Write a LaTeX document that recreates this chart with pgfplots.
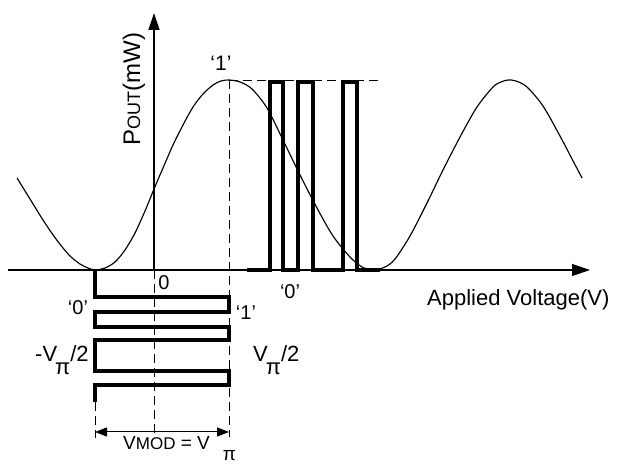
\documentclass[border=0pt]{standalone}
\usepackage{pgfplots}
\pgfplotsset{compat=1.18}
\usepackage{fontspec}
\setmainfont{Liberation Sans}
\usetikzlibrary{arrows.meta}

% font size in big points
\newcommand\fs[1]{\fontsize{#1bp}{#1bp}\selectfont}

\begin{document}
\begin{tikzpicture}
\begin{axis}[
  scale only axis, width=619bp, height=468bp,
  xmin=-154, xmax=465, ymin=-198, ymax=270,
  hide axis, clip=false]

% frame corners used for the page size
\path (rel axis cs:0,0) coordinate (bl) (rel axis cs:1,1) coordinate (tr);

% MZM power transfer curve P_out(V)
\addplot[black, line width=1.15bp, smooth] coordinates {
  (-137,92) (-124,71) (-111,50) (-98,31) (-85,15) (-74,6) (-66,2) (-59,0)
  (-49,2) (-39,8) (-29,20) (-19,37) (-9,59) (0,81) (9,102) (19,125)
  (29,145) (39,163) (49,176) (59,185) (67,189) (75,190) (86,188) (98,181)
  (113,162) (129,130) (146,95) (163,62) (179,34) (196,13) (208,3) (219,0)
  (231,3) (241,11) (256,34) (273,67) (289,100) (306,133) (323,163) (339,183)
  (347,188) (354,190) (362,189) (373,183) (389,164) (406,134) (417,113) (428,92)
};

% axes
\addplot[black, line width=1.3bp, -{Triangle[length=18bp,width=12bp]}]
  coordinates {(-146,0) (436,0)};
\addplot[black, line width=1.3bp, -{Triangle[length=17bp,width=11bp]}]
  coordinates {(0,0) (0,257)};

% dashed guide lines
\pgfplotsset{guide/.style={black, line width=1bp, dash pattern=on 9bp off 5bp}}
\addplot[guide] coordinates {(0,0) (0,-163)};
\addplot[guide] coordinates {(75,190) (75,-167)};
\addplot[guide] coordinates {(-59,-132) (-59,-168)};
\addplot[guide] coordinates {(75,189) (228,189)};

% modulation swing
\addplot[black, line width=1bp,
  {Triangle[length=12bp,width=9bp]}-{Triangle[length=12bp,width=9bp]}]
  coordinates {(-59,-162) (75,-162)};

% electrical drive signal (time runs downward)
\addplot[black, line width=3.6bp, line join=miter] coordinates {
  (-59,0) (-59,-27) (75,-27) (75,-42) (-59,-42) (-59,-57) (75,-57) (75,-70)
  (-59,-70) (-59,-101) (75,-101) (75,-115) (-59,-115) (-59,-132)};

% optical output signal
\addplot[black, line width=3.6bp, line join=miter] coordinates {
  (93,0) (116,0) (116,188) (129,188) (129,0) (144,0) (144,188) (159,188)
  (159,0) (189,0) (189,188) (203,188) (203,0) (226,0)};

% labels
\node[font=\fs{21}] at (axis cs:67,207) {‘1’};
\node[font=\fs{24}, rotate=90] at (axis cs:-20,181) {P{\fs{18}OUT}(mW)};
\node[font=\fs{20}] at (axis cs:10,-13) {0};
\node[font=\fs{20}] at (axis cs:-76,-38) {‘0’};
\node[font=\fs{20}] at (axis cs:92,-43) {‘1’};
\node[font=\fs{20}] at (axis cs:136,-22) {‘0’};
\node[font=\fs{22}, anchor=base west, inner sep=0pt] at (axis cs:-119,-92)
  {-V\kern-2bp\raisebox{-13bp}{π}/2};
\node[font=\fs{22}, anchor=base west, inner sep=0pt] at (axis cs:99,-92)
  {V\kern-2bp\raisebox{-13bp}{π}/2};
\node[font=\fs{22}, anchor=base west, inner sep=0pt] at (axis cs:273,-36)
  {Applied Voltage(V)};
\node[font=\fs{19}, anchor=base west, inner sep=0pt] at (axis cs:-31,-179)
  {V{\fs{17}MOD} = V\kern13bp\raisebox{-11bp}{π}};
\end{axis}
\pgfresetboundingbox
\useasboundingbox (bl) rectangle (tr);
\end{tikzpicture}
\end{document}
